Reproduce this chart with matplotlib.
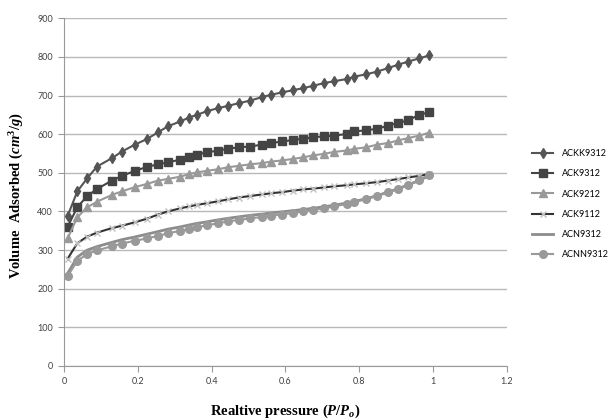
import matplotlib
matplotlib.use("Agg")
import matplotlib.pyplot as plt

# relative pressure P/Po (same sampling points for every sample)
pressure = [0.01, 0.036, 0.063, 0.089, 0.13, 0.157, 0.192, 0.224, 0.255, 0.281,
            0.315, 0.339, 0.36, 0.386, 0.416, 0.443, 0.473, 0.505, 0.537, 0.561,
            0.591, 0.621, 0.648, 0.674, 0.704, 0.732, 0.768, 0.787, 0.819, 0.849,
            0.878, 0.906, 0.933, 0.962, 0.99]

# volume adsorbed (cm3/g)
ackk9312 = [389, 452, 486, 516, 538, 555, 573, 587, 605, 620, 633, 643, 650, 659, 667,
            673, 680, 687, 696, 702, 708, 714, 719, 725, 732, 737, 743, 749, 755, 762,
            771, 780, 788, 796, 804]
ack9312 = [361, 411, 440, 458, 480, 492, 505, 515, 522, 527, 534, 541, 547, 553, 557,
           562, 566, 568, 573, 577, 581, 585, 588, 592, 594, 596, 601, 607, 610, 614,
           622, 629, 636, 650, 657]
ack9212 = [331, 385, 411, 425, 443, 452, 463, 471, 480, 484, 490, 497, 501, 505, 509,
           514, 518, 522, 525, 529, 532, 536, 540, 545, 549, 554, 558, 562, 566, 573,
           577, 584, 590, 596, 604]
ack9112 = [278, 318, 335, 345, 357, 363, 372, 381, 392, 400, 408, 413, 417, 421, 426,
           431, 436, 440, 444, 447, 450, 454, 457, 459, 462, 465, 468, 470, 473, 476,
           480, 484, 488, 492, 497]
acn9312 = [240, 282, 300, 309, 320, 327, 334, 341, 348, 354, 360, 365, 369, 373, 378,
           382, 386, 390, 393, 396, 399, 402, 405, 408, 412, 416, 422, 426, 433, 441,
           450, 459, 469, 480, 493]
acnn9312 = [233, 272, 290, 299, 310, 317, 324, 330, 337, 343, 350, 355, 359, 364, 369,
            374, 378, 382, 386, 389, 392, 396, 400, 404, 408, 413, 420, 425, 432, 441,
            450, 459, 469, 481, 495]

plt.rcParams['mathtext.fontset'] = 'custom'
plt.rcParams['mathtext.rm'] = 'Liberation Serif:bold'
plt.rcParams['mathtext.it'] = 'Liberation Serif:italic:bold'

fig = plt.figure(figsize=(6.1, 4.19), dpi=100)
ax = fig.add_axes([0.105, 0.1265, 0.726, 0.83])

ax.plot(pressure, ackk9312, color='#555555', lw=1.5, marker='d', ms=5.5, label='ACKK9312')
ax.plot(pressure, ack9312, color='#444444', lw=1.5, marker='s', ms=6, label='ACK9312')
ax.plot(pressure, ack9212, color='#999999', lw=1.5, marker='^', ms=6, label='ACK9212')
ax.plot(pressure, ack9112, color='#333333', lw=1.5, marker='x', ms=5,
        mec='#c0c0c0', mew=1, label='ACK9112')
ax.plot(pressure, acn9312, color='#8c8c8c', lw=2, label='ACN9312')
ax.plot(pressure, acnn9312, color='#999999', lw=1.5, marker='o', ms=5.5, label='ACNN9312')

ax.set_xlim(0, 1.2)
ax.set_ylim(0, 900)
ax.set_xticks([0, 0.2, 0.4, 0.6, 0.8, 1, 1.2])
ax.set_xticklabels(['0', '0.2', '0.4', '0.6', '0.8', '1', '1.2'])
ax.set_yticks(range(0, 901, 100))

ax.yaxis.grid(True, color='#b8b8b8', lw=1)
ax.set_axisbelow(True)
for s in ['top', 'right']:
    ax.spines[s].set_visible(False)
for s in ['left', 'bottom']:
    ax.spines[s].set_color('#999999')
ax.tick_params(direction='out', length=4, color='#999999', labelsize=6.5,
               labelcolor='#404040', pad=4)
for lab in ax.get_xticklabels() + ax.get_yticklabels():
    lab.set_family('Lato')

ax.set_xlabel('Realtive pressure ($P/P_o$)', family='Liberation Serif',
              fontweight='bold', fontsize=10.5)
ax.set_ylabel('Volume  Adsorbed ($cm^3/g$)', family='Liberation Serif',
              fontweight='bold', fontsize=10.5)
ax.xaxis.set_label_coords(0.5, -0.105)
ax.yaxis.set_label_coords(-0.085, 0.49)

fig.legend(loc='upper left', bbox_to_anchor=(0.865, 0.655), frameon=False,
           prop={'family': 'Lato', 'size': 6.5}, handlelength=2.3,
           labelspacing=1.25, borderpad=0, handletextpad=1.0)

fig.savefig('out.png', dpi=100)
